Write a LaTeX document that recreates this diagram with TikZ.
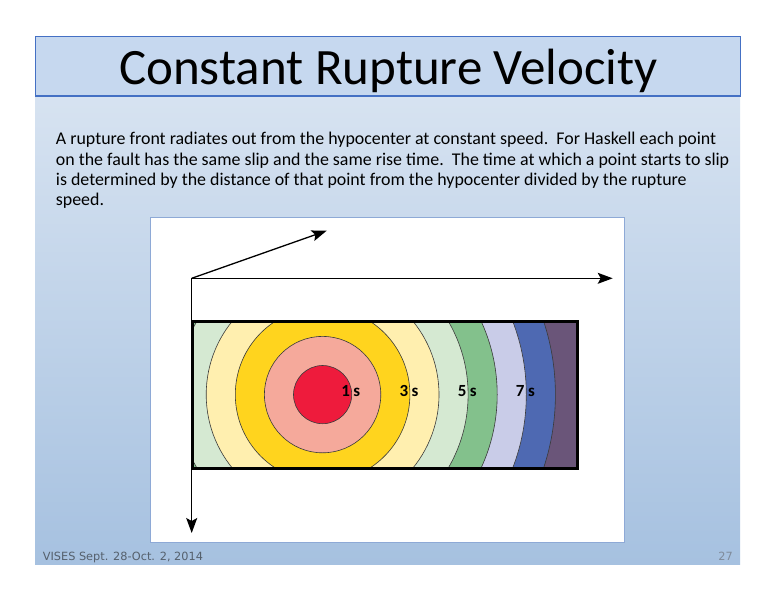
\documentclass[tikz,border=0pt]{standalone}
\usepackage{fontspec}
\setmainfont{Carlito}
\newfontfamily\footfont{DejaVu Sans}
\usetikzlibrary{arrows.meta}
\definecolor{cred}{HTML}{EE1B3C}
\definecolor{cpink}{HTML}{F5A99B}
\definecolor{cgold}{HTML}{FFD41E}
\definecolor{clyellow}{HTML}{FFEFAF}
\definecolor{clgreen}{HTML}{D5E9D2}
\definecolor{cgreen}{HTML}{83C18C}
\definecolor{clav}{HTML}{C9CCE8}
\definecolor{cblue}{HTML}{4E69B2}
\definecolor{cpurple}{HTML}{6A5579}
\definecolor{ringline}{HTML}{3A3A3A}
\definecolor{bgtop}{HTML}{DDE7F3}
\definecolor{bgbot}{HTML}{A6C1E0}
\definecolor{titlefill}{HTML}{C6D8EF}
\definecolor{titleline}{HTML}{4470C4}
\definecolor{panelborder}{HTML}{8EA9D6}
\definecolor{footgray}{HTML}{55606C}
\definecolor{pagegray}{HTML}{7F8B9A}
\tikzset{
  axisline/.style={line width=1.3pt, -{Stealth[length=15pt,width=11pt,inset=3pt]}},
  ring/.style={draw=ringline, line width=0.6pt},
  lab/.style={font=\bfseries\fontsize{17}{18}\selectfont, inner sep=0pt},
  bodyline/.style={anchor=base west, inner sep=0pt, font=\fontsize{17.9}{20}\selectfont},
  foottext/.style={inner sep=0pt, font=\footfont\fontsize{11.3}{13}\selectfont},
}
\begin{document}
\begin{tikzpicture}[x=1pt,y=-1pt]
\useasboundingbox (0,0) rectangle (776,600);
\fill[white] (0,0) rectangle (776,600);
% slide background
\shade[top color=bgtop, bottom color=bgbot] (35,36) rectangle (740,564);
% title band
\fill[titlefill] (35,36) rectangle (740,96);
\draw[titleline, line width=0.8pt] (35,36) rectangle (740,96);
\draw[titleline, line width=2pt] (35,96) -- (740,96);
\node[anchor=base, inner sep=0pt, font=\fontsize{51}{55}\selectfont] (title) at (388.5,84) {Constant Rupture Velocity};
% body text
\node[bodyline] (body1) at (55.7,144.3) {A rupture front radiates out from the hypocenter at constant speed.\ \ For Haskell each point};
\node[bodyline] (body2) at (55.7,165.0) {on the fault has the same slip and the same rise time.\ \ The time at which a point starts to slip};
\node[bodyline] (body3) at (55.7,185.5) {is determined by the distance of that point from the hypocenter divided by the rupture};
\node[bodyline] (body4) at (55.7,205.7) {speed.};
% footer
\node[foottext, anchor=base west, text=footgray] (foot) at (42.7,560.5) {VISES Sept. 28-Oct. 2, 2014};
\node[foottext, anchor=base east, text=pagegray] (page) at (733,560.5) {27};
% figure panel
\draw[panelborder, line width=0.8pt, fill=white] (150,217) rectangle (624,542);
% fault plane with rupture fronts
\coordinate (C) at (322.6,394.6);
\begin{scope}
  \clip (192.3,321.7) rectangle (577.3,468.3);
  \fill[cpurple] (192.3,321.7) rectangle (577.3,468.3);
  \foreach \r/\c in {8/cblue,7/clav,6/cgreen,5/clgreen,4/clyellow,3/cgold,2/cpink,1/cred}
    \filldraw[ring, fill=\c] (C) circle[radius=29.1*\r];
\end{scope}
\draw[line width=2.6pt] (192.3,321.7) rectangle (577.3,468.3);
% labels
\foreach \k in {1,3,5,7}{
  \node[lab, anchor=base east] (n\k) at (322.6+29.1*\k-1.5,396.5) {\k};
  \node[lab, anchor=base west] (s\k) at (322.6+29.1*\k+1.5,396.5) {s};
}
% axes
\coordinate (O) at (191.7,278.3);
\coordinate (Xt) at (612.7,278.3);
\coordinate (Yt) at (326.7,230.7);
\coordinate (Zt) at (191.7,533);
\draw[axisline] (O) -- (Xt);
\draw[axisline] (O) -- (Yt);
\draw[axisline] (O) -- (Zt);
\end{tikzpicture}
\end{document}
